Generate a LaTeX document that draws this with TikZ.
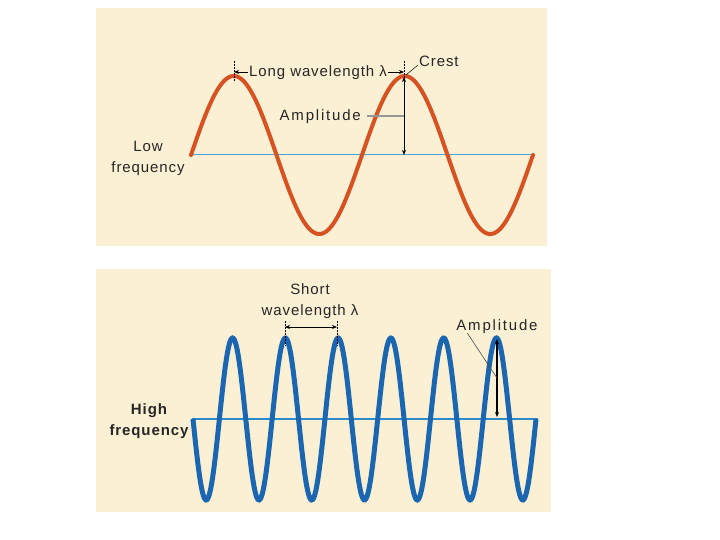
\documentclass[tikz,border=0pt]{standalone}
\usepackage{fontspec}
\setmainfont{Liberation Sans}
\newfontfamily\lblfont[LetterSpace=6]{Liberation Sans}
\newfontfamily\widefont[LetterSpace=12]{Liberation Sans}
\usetikzlibrary{arrows.meta}
\definecolor{cream}{RGB}{252,240,212}
\definecolor{redwave}{RGB}{214,82,34}
\definecolor{bluewave}{RGB}{26,102,176}
\definecolor{baseA}{RGB}{74,163,214}
\definecolor{baseB}{RGB}{46,139,203}
\definecolor{leadgray}{RGB}{150,150,150}
\begin{document}
\begin{tikzpicture}[x=1pt,y=-1pt,
  lbl/.style={font=\lblfont\fontsize{15}{21}\selectfont, inner sep=0pt, text=black!85},
  wlbl/.style={font=\widefont\fontsize{15}{21}\selectfont, inner sep=0pt, text=black!85},
  blbl/.style={font=\lblfont\bfseries\fontsize{15}{21}\selectfont, inner sep=0pt, text=black!85},
  tick/.style={black, line width=0.5pt, dash pattern=on 2pt off 1pt},
  arr/.style={black, line width=0.7pt, -{Stealth[length=5pt,width=4pt]}},
  darr/.style={black, line width=0.8pt, {Stealth[length=5pt,width=4pt]}-{Stealth[length=5pt,width=4pt]}}]
\useasboundingbox (0,0) rectangle (720,540);
\fill[white] (0,0) rectangle (720,540);
% panels
\fill[cream] (96,8) rectangle (547,246);
\fill[cream] (96,269) rectangle (551,512);
% ---------- top panel ----------
\draw[baseA, line width=1pt] (191,155) -- (533,155);
\draw[redwave, line width=4pt, line cap=round]
  plot[domain=191:533, samples=240, smooth] (\x, {155-79*sin(2.10526*(\x-191))});
% wavelength ticks
\coordinate (tkA1) at (234,61); \coordinate (tkA2) at (234,82);
\coordinate (tkB1) at (404,61); \coordinate (tkB2) at (404,82);
\draw[tick] (tkA1) -- (tkA2);
\draw[tick] (tkB1) -- (tkB2);
\node[lbl, anchor=base] (longwl) at (318,77) {Long wavelength λ};
\coordinate (la) at (234,72); \coordinate (lb) at (404,72);
\draw[arr] ([xshift=-1pt,yshift=5pt]longwl.base west) -- (la);
\draw[arr] ([xshift=1pt,yshift=5pt]longwl.base east) -- (lb);
% crest
\node[lbl, anchor=base west] (crest) at (419,67) {Crest};
\coordinate (crestpt) at (406,75);
\draw[black, line width=0.5pt] (crestpt) -- ([xshift=-1pt,yshift=2pt]crest.base west);
% amplitude
\coordinate (amptop) at (404,77); \coordinate (ampbot) at (404,155);
\draw[darr] (amptop) -- (ampbot);
\node[wlbl, anchor=base east] (ampA) at (361,121) {Amplitude};
\coordinate (ampmid) at (404,116);
\draw[leadgray, line width=1.6pt] ([xshift=6pt,yshift=5pt]ampA.base east) -- (ampmid);
% low frequency
\node[lbl, align=center, anchor=base] (low) at (148,173) {Low\\frequency};
% ---------- bottom panel ----------
\draw[baseB, line width=1.8pt] (192,419) -- (538,419);
\draw[bluewave, line width=5pt]
  plot[domain=193:536, samples=400, smooth] (\x, {419+81*sin(6.8221*(\x-193))});
% short wavelength
\node[lbl, align=center, anchor=base] (shortwl) at (310,315) {Short\\wavelength λ};
\coordinate (tkC1) at (285,321); \coordinate (tkC2) at (285,346);
\coordinate (tkD1) at (337,321); \coordinate (tkD2) at (337,346);
\draw[tick] (tkC1) -- (tkC2);
\draw[tick] (tkD1) -- (tkD2);
\coordinate (sa) at (285,327); \coordinate (sb) at (337,327);
\draw[darr, line width=0.7pt] (sa) -- (sb);
% amplitude bottom
\node[wlbl, anchor=base] (ampB) at (497,330) {Amplitude};
\coordinate (bamptop) at (497,339); \coordinate (bampbot) at (497,417);
\draw[darr, line width=1.3pt] (bamptop) -- (bampbot);
\coordinate (bleadend) at (497,378);
\draw[black!70, line width=0.6pt] ([xshift=11pt,yshift=-3pt]ampB.base west) -- (bleadend);
% high frequency
\node[blbl, align=center, anchor=base] (high) at (149,435) {High\\frequency};
\end{tikzpicture}
\end{document}
